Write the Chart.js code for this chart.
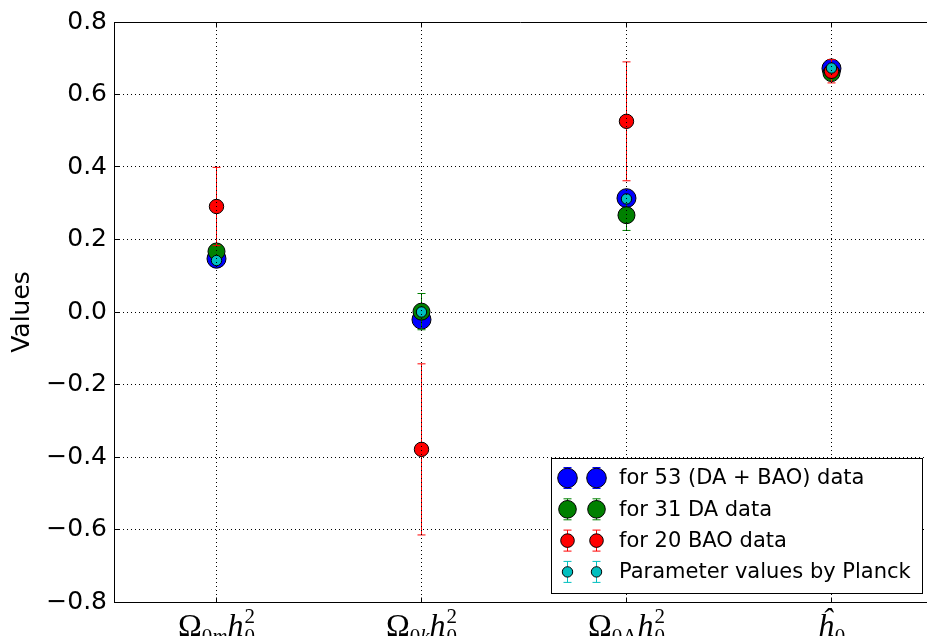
<!DOCTYPE html>
<html lang="en">
<head>
    <meta charset="UTF-8">
    <title>Values</title>
    <script src="https://cdn.jsdelivr.net/npm/chart.js"></script>
    <style>
        html, body {
            margin: 0;
            padding: 0;
            background: #fff;
            overflow: hidden;
        }
        #wrap {
            width: 927px;
            height: 636px;
        }
    </style>
</head>
<body>
    <div id="wrap"><canvas id="chart" width="927" height="636"></canvas></div>

    <script>
        // categories (x positions 0..3)
        const categories = ['Ω0m h0²', 'Ω0k h0²', 'Ω0Λ h0²', 'ĥ0'];
        const seriesLabels = ['for 53 (DA + BAO) data', 'for 31 DA data', 'for 20 BAO data', 'Parameter values by Planck'];

        const combinedValues = [0.147, -0.021, 0.314, 0.672];
        const combinedErrors = [0.010, 0.015, 0.012, 0.008];
        const daValues = [0.167, 0.001, 0.267, 0.659];
        const daErrors = [0.018, 0.050, 0.042, 0.014];
        const baoValues = [0.291, -0.379, 0.526, 0.664];
        const baoErrors = [0.108, 0.236, 0.164, 0.032];
        const planckValues = [0.142, 0.000, 0.312, 0.673];
        const planckErrors = [0.002, 0.005, 0.009, 0.010];

        const yTicks = [-0.8, -0.6, -0.4, -0.2, 0.0, 0.2, 0.4, 0.6, 0.8];

        // pieces of the math tick labels
        const tickParts = [
            [{s: 'Ω'}, {s: '0', sub: 1}, {s: 'm', sub: 1, it: 1}, {s: 'h', it: 1}, {s: '0', sub: 1, sup: '2'}],
            [{s: 'Ω'}, {s: '0', sub: 1}, {s: 'k', sub: 1, it: 1}, {s: 'h', it: 1}, {s: '0', sub: 1, sup: '2'}],
            [{s: 'Ω'}, {s: '0Λ', sub: 1}, {s: 'h', it: 1}, {s: '0', sub: 1, sup: '2'}],
            [{s: 'ĥ', it: 1}, {s: '0', sub: 1}]
        ];

        function points(vals) {
            return vals.map((v, i) => ({x: i, y: v}));
        }

        function snap(p) {
            return Math.round(p - 0.5) + 0.5;
        }

        Chart.defaults.font.family = 'DejaVu Sans';
        Chart.defaults.color = '#000';

        function drawErrorBar(ctx, x, yTop, yBot, color) {
            ctx.strokeStyle = color;
            ctx.lineWidth = 1;
            ctx.setLineDash([]);
            ctx.beginPath();
            ctx.moveTo(x, yTop);
            ctx.lineTo(x, yBot);
            ctx.moveTo(x - 4, yTop);
            ctx.lineTo(x + 4, yTop);
            ctx.moveTo(x - 4, yBot);
            ctx.lineTo(x + 4, yBot);
            ctx.stroke();
        }

        const errorBars = {
            id: 'errorBars',
            beforeDatasetDraw(chart, args) {
                const ds = chart.data.datasets[args.index];
                if (!ds.errors) return;
                const {ctx, scales: {x, y}} = chart;
                ctx.save();
                ds.data.forEach((p, i) => {
                    const px = snap(x.getPixelForValue(p.x));
                    drawErrorBar(ctx, px, y.getPixelForValue(p.y + ds.errors[i]), y.getPixelForValue(p.y - ds.errors[i]), ds.errColor);
                });
                ctx.restore();
            },
            // dotted vertical grid on top of the markers, like the y grid
            afterDatasetsDraw(chart) {
                const {ctx, chartArea: a, scales: {x}} = chart;
                ctx.save();
                ctx.strokeStyle = '#000';
                ctx.lineWidth = 1;
                ctx.setLineDash([1, 3]);
                ctx.beginPath();
                categories.forEach((c, i) => {
                    const px = snap(x.getPixelForValue(i));
                    ctx.moveTo(px, a.top);
                    ctx.lineTo(px, a.bottom);
                });
                ctx.stroke();
                ctx.restore();
            }
        };

        function drawMath(ctx, parts, cx, base) {
            const big = 32, small = 21;
            const fontFor = (p, size) => (p.it ? 'italic ' : '') + size + 'px "Liberation Serif"';
            let w = 0;
            parts.forEach(p => {
                ctx.font = fontFor(p, p.sub ? small : big);
                let adv = ctx.measureText(p.s).width;
                if (p.sup) adv = Math.max(adv, ctx.measureText(p.sup).width);
                w += adv + (p.it && !p.sub ? 1 : 0);
            });
            let xx = cx - w / 2;
            ctx.textBaseline = 'alphabetic';
            ctx.textAlign = 'left';
            parts.forEach(p => {
                ctx.font = fontFor(p, p.sub ? small : big);
                let adv = ctx.measureText(p.s).width;
                ctx.fillText(p.s, xx, base + (p.sub ? 7 : 0));
                if (p.sup) {
                    ctx.fillText(p.sup, xx, base - 13);
                    adv = Math.max(adv, ctx.measureText(p.sup).width);
                }
                xx += adv + (p.it && !p.sub ? 1 : 0);
            });
        }

        const frame = {
            id: 'frame',
            afterDraw(chart) {
                const {ctx, chartArea: a, scales: {x, y}} = chart;
                const top = snap(a.top);
                const bot = snap(a.bottom);
                const left = snap(a.left);
                ctx.save();
                ctx.strokeStyle = '#000';
                ctx.lineWidth = 1;
                ctx.setLineDash([]);
                ctx.beginPath();
                ctx.moveTo(a.left, top);
                ctx.lineTo(a.right, top);
                yTicks.forEach(v => {
                    const py = snap(y.getPixelForValue(v));
                    ctx.moveTo(left, py);
                    ctx.lineTo(left + 5, py);
                });
                categories.forEach((c, i) => {
                    const px = snap(x.getPixelForValue(i));
                    ctx.moveTo(px, bot);
                    ctx.lineTo(px, bot - 5);
                    ctx.moveTo(px, top);
                    ctx.lineTo(px, top + 5);
                });
                ctx.stroke();

                // x tick labels
                ctx.fillStyle = '#000';
                categories.forEach((c, i) => {
                    drawMath(ctx, tickParts[i], x.getPixelForValue(i), 636);
                });

                // legend box
                const lx = 551, ly = 458, lw = 371, lh = 135;
                ctx.fillStyle = '#fff';
                ctx.fillRect(lx, ly, lw, lh);
                ctx.strokeRect(lx + 0.5, ly + 0.5, lw, lh);
                const sizes = [9.8, 8.8, 6.8, 5.2];
                chart.data.datasets.forEach((ds, k) => {
                    const ry = ly + 20 + k * 31.3;
                    [lx + 16, lx + 45].forEach(mx => {
                        drawErrorBar(ctx, mx + 0.5, ry - 10.5, ry + 10.5, ds.errColor);
                        ctx.beginPath();
                        ctx.arc(mx + 0.5, ry, sizes[k], 0, Math.PI * 2);
                        ctx.fillStyle = ds.backgroundColor;
                        ctx.fill();
                        ctx.strokeStyle = '#000';
                        ctx.stroke();
                    });
                    ctx.fillStyle = '#000';
                    ctx.font = '21px "DejaVu Sans"';
                    ctx.textBaseline = 'middle';
                    ctx.fillText(seriesLabels[k], lx + 68, ry + 1);
                });
                ctx.restore();
            }
        };

        new Chart(document.getElementById('chart'), {
            type: 'scatter',
            data: {
                datasets: [
                    {label: seriesLabels[0], data: points(combinedValues), errors: combinedErrors, errColor: '#0000ff',
                     backgroundColor: '#0000ff', borderColor: '#000', borderWidth: 1, pointRadius: 9.5, order: 4},
                    {label: seriesLabels[1], data: points(daValues), errors: daErrors, errColor: '#008000',
                     backgroundColor: '#008000', borderColor: '#000', borderWidth: 1, pointRadius: 8.5, order: 3},
                    {label: seriesLabels[2], data: points(baoValues), errors: baoErrors, errColor: '#ff0000',
                     backgroundColor: '#ff0000', borderColor: '#000', borderWidth: 1, pointRadius: 7.2, order: 2},
                    {label: seriesLabels[3], data: points(planckValues), errors: planckErrors, errColor: '#00bfbf',
                     backgroundColor: '#00bfbf', borderColor: '#000', borderWidth: 1, pointRadius: 5.2, order: 1}
                ]
            },
            options: {
                responsive: false,
                animation: false,
                layout: {autoPadding: false, padding: {top: 22, bottom: 34, left: 0, right: 0}},
                plugins: {
                    legend: {display: false},
                    tooltip: {enabled: false}
                },
                scales: {
                    x: {
                        type: 'linear',
                        min: -0.5,
                        max: 3.466,
                        afterBuildTicks: (scale) => {
                            scale.ticks = categories.map((c, i) => ({value: i}));
                        },
                        ticks: {display: false},
                        grid: {display: false, drawTicks: false},
                        border: {display: true, color: '#000', width: 1}
                    },
                    y: {
                        min: -0.8,
                        max: 0.8,
                        z: 1,
                        afterBuildTicks: (scale) => {
                            scale.ticks = yTicks.map(v => ({value: v}));
                        },
                        afterFit: (scale) => {
                            scale.width = 114;
                        },
                        ticks: {
                            padding: 7,
                            font: {size: 25},
                            callback: (v) => (v < -1e-9 ? '\u2212' : '') + Math.abs(v).toFixed(1)
                        },
                        title: {
                            display: true,
                            text: 'Values',
                            font: {size: 25},
                            padding: {top: 7, bottom: 0}
                        },
                        grid: {color: '#000', lineWidth: 1, drawTicks: false},
                        border: {display: true, color: '#000', width: 1, dash: [1, 3]}
                    }
                }
            },
            plugins: [errorBars, frame]
        });
    </script>
</body>
</html>
